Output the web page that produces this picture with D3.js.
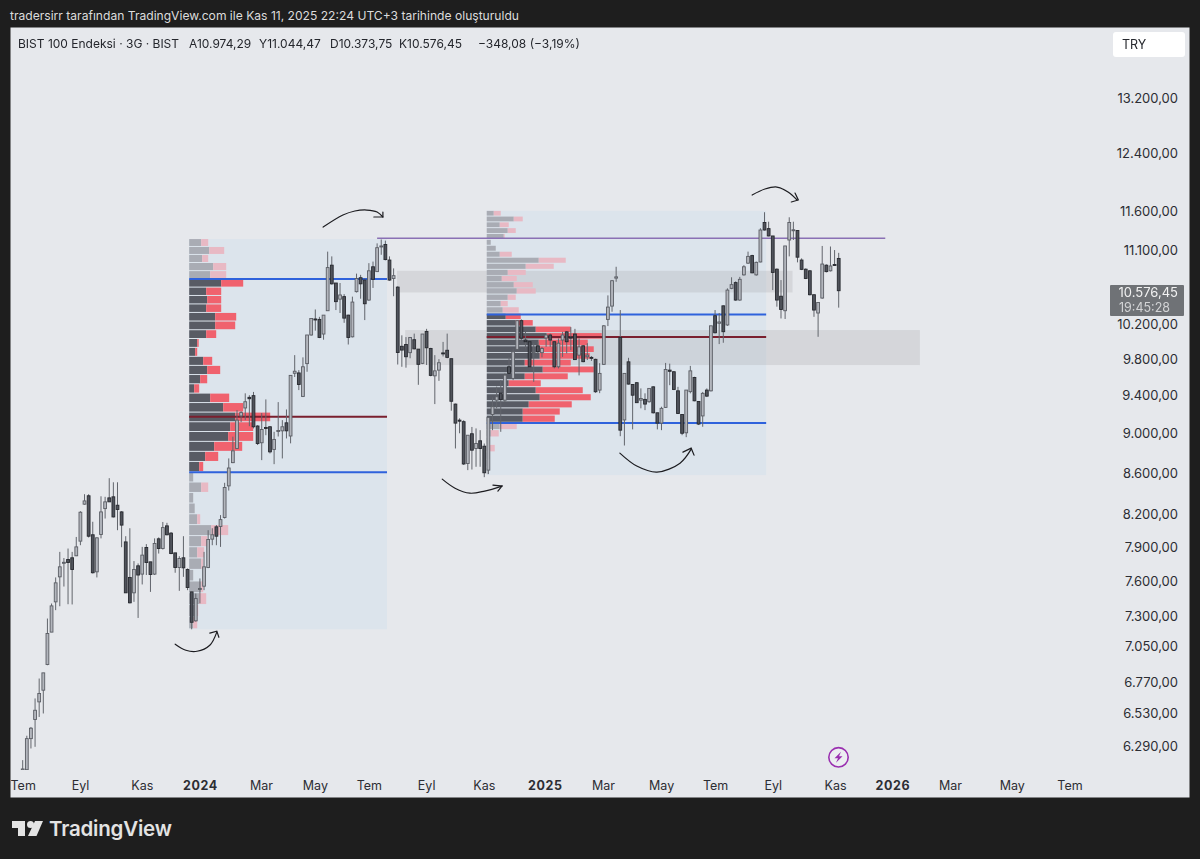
<!DOCTYPE html>
<html><head><meta charset="utf-8">
<style>html,body{margin:0;padding:0;background:#1e1e1e}svg{display:block}text{font-family:Inter,Roboto,"Noto Sans",sans-serif}</style>
<script src="https://cdn.jsdelivr.net/npm/d3@7/dist/d3.min.js"></script>
</head><body><svg id="c" width="1200" height="859"></svg>
<script>
const headerText = "tradersirr tarafından TradingView.com ile Kas 11, 2025 22:24 UTC+3 tarihinde oluşturuldu";
const titleText = "BIST 100 Endeksi · 3G · BIST";
const ohlcText = ["A10.974,29","Y11.044,47","D10.373,75","K10.576,45","−348,08 (−3,19%)"];
const priceTicks = [13200,12400,11600,11100,10200,9800,9400,9000,8600,8200,7900,7600,7300,7050,6770,6530,6290];
const timeLabels = ["Tem","Eyl","Kas","2024","Mar","May","Tem","Eyl","Kas","2025","Mar","May","Tem","Eyl","Kas","2026","Mar","May","Tem"];
const timeBars   = [0,13.9,28.9,43,57.8,70.9,84,97.9,111.9,126.7,140.8,154.9,168,182,197.1,211,225,240,254];

const opens = [6112,6115,6336,6476,6608,6697,6897,7157,7409,7624,7748,7777,7792,7810,7942,8285,8365,8000,7668,8003,8243,8345,8355,8275,8212,7935,7619,7486,7721,7648,7884,7756,7648,7963,7875,8082,8015,7836,7706,7792,7689,7494,7250,7515,7543,7706,7960,8073,8076,8160,8460,8688,8830,9165,9249,9362,9380,9060,8888,9045,9052,8820,9007,9010,9093,8957,9623,9627,9372,9730,10054,10240,10235,10065,10337,10890,10670,10475,10505,10285,10033,10565,10735,10706,10464,10870,10810,11125,11150,10954,10725,10620,9925,9945,9853,10000,9893,9733,10095,9900,9595,9658,9850,9880,9785,9290,9121,9105,8680,8980,8830,8908,8853,8614,9180,9332,9407,9332,9695,9567,9890,10220,9996,9977,9853,9930,9853,10020,10054,9977,9695,9996,10090,10030,10065,9825,9930,9807,9800,9778,9440,9722,10235,10392,10730,10026,9123,9750,9500,9520,9332,9340,9315,9475,9198,9090,9255,9658,9640,9432,9180,8990,9423,9577,9318,9165,9440,9432,10278,10190,10395,10170,10605,10675,10464,10770,10915,11010,10770,10930,11435,11355,11260,10840,10510,10337,11208,11330,11330,10954,10840,10820,10528,10310,10488,10890,10820,10898,10974.29];
const highs = [6182,6357,6421,6634,6787,6831,7269,7395,7619,7845,7790,7875,7845,7980,8219,8380,8380,8120,7976,8360,8355,8535,8495,8495,8219,7987,8060,7763,7742,7890,7915,7756,7967,7976,8118,8110,8025,7836,7806,7987,7698,7494,7480,7610,7845,8042,8060,8090,8182,8490,8730,8950,9226,9215,9405,9385,9420,9068,9195,9340,9060,9000,9311,9121,9233,9600,9825,9658,9800,10054,10246,10352,10265,10285,11060,11000,10670,10670,10535,10290,10505,10785,10770,10725,10915,10935,11165,11215,11200,11000,10850,10630,10050,10030,10030,10070,9893,10065,10125,9908,9825,9780,9975,10070,9785,9295,9140,9120,8965,9050,9035,9017,8880,9150,9360,9478,9548,9622,9805,9900,10227,10235,10090,9988,9960,9975,9918,10054,10070,9977,10015,10090,10100,10145,10125,10015,9938,9960,9815,9785,9735,10168,10520,10706,10870,10345,9622,9795,9505,9527,9458,9405,9458,9482,9198,9262,9738,9730,9648,9475,9180,9440,9705,9585,9318,9420,9458,10160,10345,10310,10400,10605,10740,10690,10745,10890,11060,11020,10935,11360,11570,11445,11260,10850,10706,11132,11503,11445,11337,10975,10850,10829,10528,10435,11132,10900,11125,11080,11044.47];
const lows = [6112,6115,6265,6277,6495,6521,6891,7157,7339,7372,7540,7389,7387,7807,7905,8280,7975,7653,7619,7967,8150,8307,8160,8042,7887,7486,7396,7409,7274,7558,7640,7494,7640,7830,7866,7995,7824,7660,7503,7624,7509,7180,7243,7396,7509,7700,7905,7905,7890,8150,8415,8683,8830,9100,9121,9058,9035,8865,8713,8965,8780,8673,8952,8730,8932,8882,9582,9440,9365,9640,10047,10104,10018,10000,10337,10650,10345,10310,10195,9945,10026,10555,10480,10227,10455,10610,10805,11020,10950,10698,10510,9720,9695,9685,9790,9890,9497,9725,9715,9590,9290,9540,9810,9790,9220,8830,8985,8665,8614,8620,8647,8647,8545,8575,9017,9245,9000,9310,9615,9548,9882,9996,9900,9677,9530,9845,9800,9918,9918,9677,9677,9805,9845,9882,9770,9600,9745,9770,9760,9410,9407,9715,10157,10325,10685,8955,8860,9500,9025,9305,9245,9226,9305,9190,9025,9017,9250,9493,9440,9185,8965,8945,9405,9320,9070,9052,9365,9425,10072,9950,9965,10160,10595,10455,10455,10760,10905,10790,10760,10925,11330,11255,10584,10385,10246,10240,11000,11208,10925,10829,10718,10520,10265,10033,10480,10800,10812,10885,10373.75];
const closes = [6120,6336,6412,6545,6672,6831,7146,7375,7572,7712,7752,7750,7689,7890,8209,8316,7987,7660,7972,8212,8307,8307,8165,8235,8089,7486,7401,7689,7640,7816,7750,7645,7921,7875,8066,8000,7830,7706,7786,7703,7532,7238,7437,7523,7712,7957,8000,7987,8140,8445,8635,8806,9121,9200,9315,9347,9052,8880,9024,9038,8796,8922,9014,9052,9010,9600,9646,9500,9695,10054,10246,10232,10026,10285,10860,10660,10445,10525,10250,10026,10440,10725,10660,10420,10820,10715,11110,11132,10960,10706,10760,9855,9882,9807,10026,9896,9722,10065,9908,9600,9650,9740,9845,9800,9320,9090,9110,8675,8965,8813,8880,8830,8588,9150,9263,9368,9340,9603,9622,9863,10220,10017,9977,9695,9865,9863,9900,10054,9996,9695,9960,10054,9977,10018,9775,9918,9752,9825,9790,9422,9622,10160,10380,10698,10745,9017,9622,9505,9385,9305,9350,9290,9458,9198,9090,9245,9665,9645,9447,9190,8985,9440,9650,9325,9080,9405,9375,10160,10080,10205,10092,10584,10650,10464,10715,10870,11000,10795,10925,11337,11337,11260,10800,10464,10352,11132,11435,11340,10990,10838,10725,10528,10345,10435,10904,10810,10880,10890,10576.45];

const vp1Buy  = [12,20,13,24,21,32,17,18,17,26,26,17,8,6,14,18,11,5,21,34,46,41,39,25,16,10,4,12,4,5.5,8,22,12,8,12,4,12,10,7,4];
const vp1Sell = [7,15,6,13,16,22,15,14,15,21,20,10,1.5,2,9,13,7,5,19,20,35,23,25,28,13,4,0,7,0,0,3,17,6,7,2,0,2,7,2,4];
const vp2Buy  = [7,27,13,21,17,4,9,13,52,39,21,15,27,30,21,14,16,19,29,49,60,52,53,53,38,56,38,22,49,53,42,36,36,13,4,3,2,3,2,1];
const vp2Sell = [7,9,9,8,1,0,0,12,27,28,18,15,19,19,8,7,16,15,17,35,55,49,54,50,46,51,43,32,47,51,43,37,32,17,8,0,6,0,0,0];

const profiles = [
  {buy:vp1Buy, sell:vp1Sell, top:11220, step:101,  barFrom:40.4,  barTo:88.4,  bottom:7180, vah:10718, poc:9157,  val:8594},
  {buy:vp2Buy, sell:vp2Sell, top:11588, step:75.6, barFrom:112.6, barTo:180.4, bottom:8565, vah:10292, poc:10030, val:9090}
];
const zones = [
  {barFrom:90.8, barTo:186.8, hi:10820, lo:10555},
  {barFrom:92.8, barTo:217.7, hi:10111, lo:9714}
];
const resistance = {barFrom:86, barTo:209.3, price:11230};
const arrows = [
  {curve:[[37,7059],[39.6,7010],[42.3,7002],[45.4,7050],[47.1,7157]], head:[[45.4,7149],[47.1,7165],[47.6,7115]]},
  {curve:[[72.9,11375],[77.7,11533],[80.6,11586],[83.5,11599],[86,11573],[87.4,11507]], head:[[87.4,11573],[87.4,11507],[85.2,11507]]},
  {curve:[[101.8,8526],[104.9,8438],[108.5,8390],[112.1,8410],[116.3,8458]], head:[[114.1,8467],[116.3,8458],[115.3,8410]]},
  {curve:[[144.9,8783],[149,8654],[153.9,8594],[159.5,8683],[162.2,8823]], head:[[160.2,8793],[162.2,8833],[162.9,8763]]},
  {curve:[[177,11800],[180.1,11881],[183,11908],[185.7,11840],[187.9,11733]], head:[[187.4,11827],[188.2,11733],[186.5,11706]]}
];
const lastPrice = 10576.45, countdown = "19:45:28", currency = "TRY", brand = "TradingView";

const svg = d3.select("#c");
const x = d3.scaleLinear().domain([0, opens.length-1]).range([22.7, 838.7]);
const y = d3.scaleLog().domain([13200, 6290]).range([97, 745]);
const vol = d3.scaleLinear().domain([0,100]).range([0,100]);
const fmt = d3.formatLocale({decimal:",",thousands:".",grouping:[3],currency:["",""]}).format(",.2f");

svg.append("rect").attr("x",10.5).attr("y",27.5).attr("width",1179).attr("height",770).attr("fill","#e6e8ec");
svg.append("text").attr("x",10).attr("y",20).attr("fill","#dcdcdc").attr("font-size",12.1).text(headerText);

svg.append("defs").append("clipPath").attr("id","plot").append("rect").attr("x",11).attr("y",28).attr("width",1178).attr("height",742);
const plot = svg.append("g").attr("clip-path","url(#plot)").style("filter","blur(.3px)");

// profile backgrounds
plot.selectAll("rect.bg").data(profiles).join("rect").attr("class","bg")
  .attr("x",d=>x(d.barFrom)).attr("width",d=>x(d.barTo)-x(d.barFrom))
  .attr("y",d=>y(d.top)).attr("height",d=>y(d.bottom)-y(d.top)).attr("fill","#dce4ec");
// zones
plot.selectAll("rect.zone").data(zones).join("rect").attr("class","zone")
  .attr("x",d=>x(d.barFrom)).attr("width",d=>x(d.barTo)-x(d.barFrom))
  .attr("y",d=>y(d.hi)).attr("height",d=>y(d.lo)-y(d.hi)).attr("fill","#8f9196").attr("opacity",.2);
// profile rows
profiles.forEach(p=>{
  const left = x(p.barFrom);
  const g = plot.append("g");
  p.buy.forEach((b,i)=>{
    const hi = p.top-i*p.step, lo = hi-p.step, mid=(hi+lo)/2;
    const inside = mid<=p.vah && mid>=p.val;
    const ry=y(hi), rh=y(lo)-y(hi)-1;
    g.append("rect").attr("x",left).attr("y",ry).attr("width",vol(b)).attr("height",rh).attr("fill",inside?"#585b64":"#a9acb4");
    if(p.sell[i]>0) g.append("rect").attr("x",left+vol(b)).attr("y",ry).attr("width",vol(p.sell[i])).attr("height",rh).attr("fill",inside?"#f0626e":"#e8b9c4");
  });
  const ln=(price,col,w)=>g.append("line").attr("x1",left).attr("x2",x(p.barTo)).attr("y1",y(price)).attr("y2",y(price)).attr("stroke",col).attr("stroke-width",w);
  ln(p.vah,"#2f62dc",2); ln(p.val,"#2f62dc",2); ln(p.poc,"#7a1f2e",2);
});
plot.append("line").attr("x1",x(resistance.barFrom)).attr("x2",x(resistance.barTo)).attr("y1",y(resistance.price)).attr("y2",y(resistance.price)).attr("stroke","#8a70b4").attr("stroke-width",1.5);

// candles
const bars = d3.range(opens.length).map(i=>({i,o:opens[i],h:highs[i],l:lows[i],c:closes[i]}));
const cg = plot.selectAll("g.candle").data(bars).join("g").attr("class","candle");
cg.append("line").attr("x1",d=>x(d.i)).attr("x2",d=>x(d.i)).attr("y1",d=>y(d.h)).attr("y2",d=>y(d.l)).attr("stroke","#62656c").attr("stroke-width",1);
cg.append("rect").attr("x",d=>x(d.i)-1.4).attr("width",2.8)
  .attr("y",d=>y(Math.max(d.o,d.c))).attr("height",d=>Math.max(1,Math.abs(y(d.o)-y(d.c))))
  .attr("fill",d=>d.c>=d.o?"#b3b6bd":"#50535b").attr("stroke",d=>d.c>=d.o?"#5a5d64":"#26282e").attr("stroke-width",.9);

// hand drawn arrows
const lineGen = d3.line().x(d=>x(d[0])).y(d=>y(d[1]));
arrows.forEach(a=>{
  plot.append("path").attr("d",lineGen.curve(d3.curveCatmullRom)(a.curve)).attr("fill","none").attr("stroke","#1c1c20").attr("stroke-width",1.2).attr("stroke-linecap","round");
  plot.append("path").attr("d",lineGen.curve(d3.curveLinear)(a.head)).attr("fill","none").attr("stroke","#1c1c20").attr("stroke-width",1.2).attr("stroke-linecap","round");
});

// axes
const yAxis = svg.append("g").attr("transform","translate(1178,1.5)")
  .call(d3.axisLeft(y).tickValues(priceTicks).tickFormat(fmt).tickSize(0).tickPadding(0));
yAxis.select(".domain").remove();
yAxis.selectAll("text").attr("font-size",13).attr("fill","#2c2d33").style("font-family","Inter,Roboto,sans-serif");

const xAxis = svg.append("g").attr("transform","translate(0,775)")
  .call(d3.axisBottom(x).tickValues(timeBars).tickFormat((d,i)=>timeLabels[i]).tickSize(0).tickPadding(6));
xAxis.select(".domain").remove();
xAxis.selectAll("text").attr("font-size",12.5).attr("fill","#2c2d33").style("font-family","Inter,Roboto,sans-serif")
  .attr("font-weight",(d,i)=>/^\d/.test(timeLabels[i])?700:400).attr("letter-spacing",(d,i)=>/^\d/.test(timeLabels[i])?".6px":"0");

// title row
svg.append("text").attr("x",18).attr("y",47.5).attr("fill","#24262c").attr("font-size",12).text(titleText);
const ox=[189,259,330,399,478];
ohlcText.forEach((t,i)=>svg.append("text").attr("x",ox[i]).attr("y",47.5).attr("fill","#24262c").attr("font-size",12).text(t));

// currency button and last price
svg.append("rect").attr("x",1113).attr("y",32).attr("width",72).attr("height",25).attr("rx",3).attr("fill","#fff");
svg.append("text").attr("x",1122).attr("y",49).attr("font-size",12.5).attr("fill","#26282e").text(currency);
svg.append("rect").attr("x",1110).attr("y",285).attr("width",74).attr("height",31).attr("rx",1).attr("fill","#6f7276");
svg.append("text").attr("x",1178).attr("y",297).attr("text-anchor","end").attr("font-size",13).attr("fill","#f2f2f2").text(fmt(lastPrice));
svg.append("text").attr("x",1119).attr("y",311.5).attr("font-size",12.5).attr("fill","#d3d4d6").text(countdown);

// lightning marker
const mark = svg.append("g").attr("transform","translate(838.5,757.3)");
mark.append("circle").attr("r",9.7).attr("fill","#eceef1").attr("stroke","#9a2fb0").attr("stroke-width",1.6);
mark.append("path").attr("d","M2.5,-5.5 L-4,1 L-0.5,1 L-2.5,5.5 L4,-1 L0.5,-1 Z").attr("fill","#9a2fb0");

// brand
const lg = svg.append("g").attr("fill","#e3e3e3");
lg.append("path").attr("d","M12 821h13v15h-7v-8h-6z");
lg.append("circle").attr("cx",30.5).attr("cy",824.5).attr("r",3.5);
lg.append("path").attr("d","M35 821h8l-6.5 15h-8.5z");
svg.append("text").attr("x",49).attr("y",836).attr("font-size",20.5).attr("font-weight",600).attr("fill","#e3e3e3").attr("letter-spacing","-.2px").text(brand);
</script></body></html>
